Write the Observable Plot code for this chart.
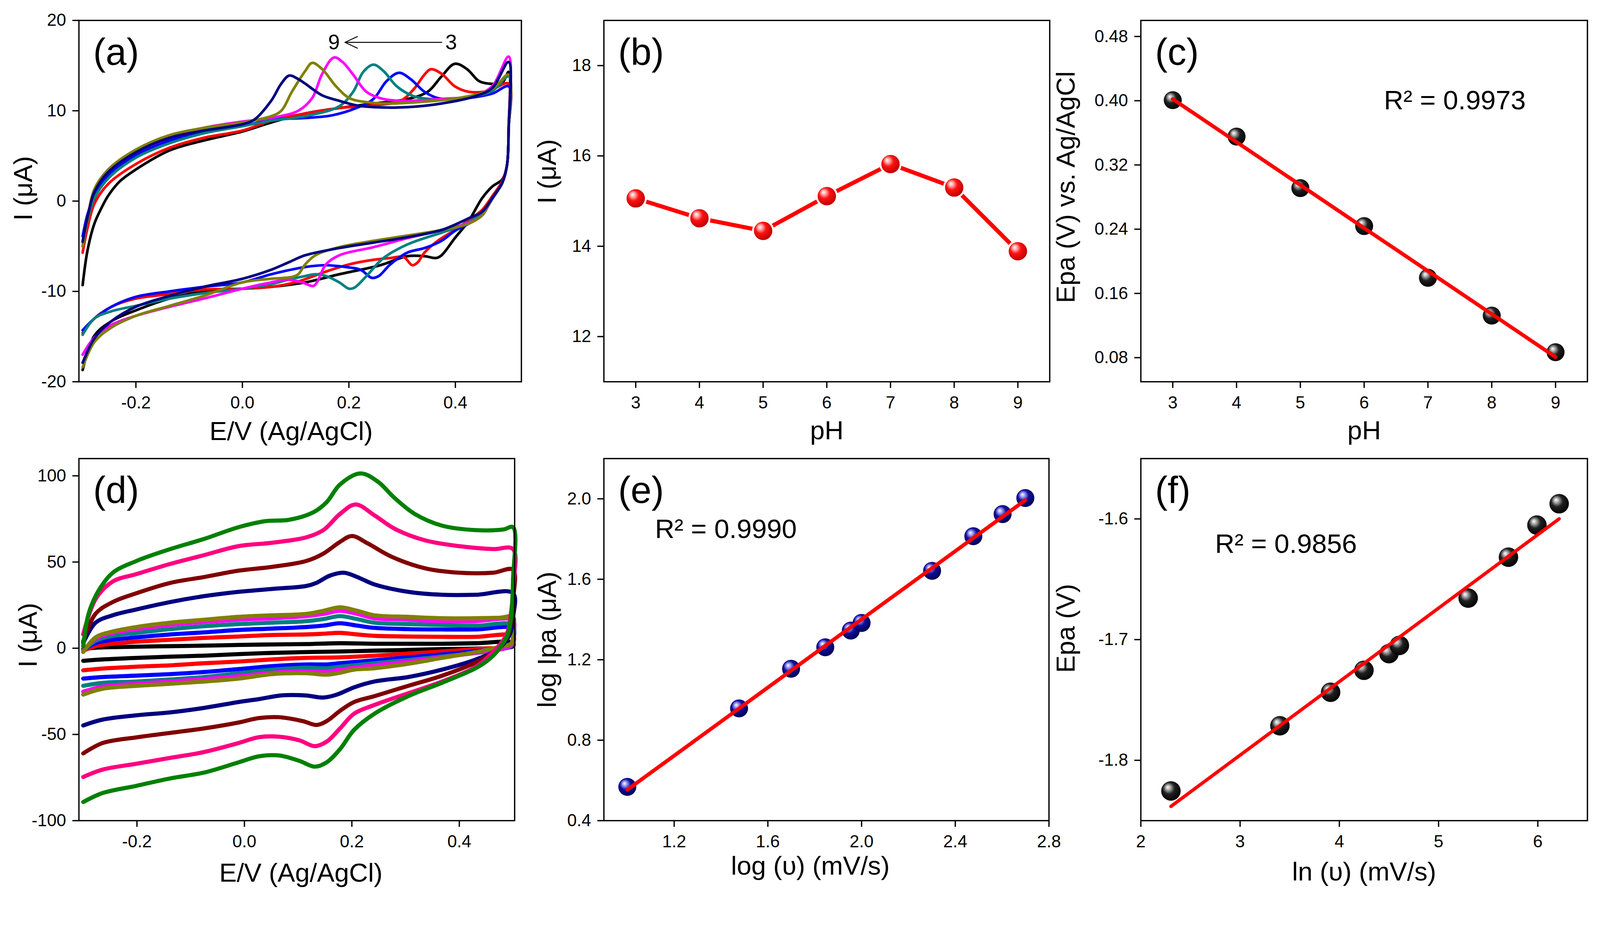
<!DOCTYPE html>
<html>
<head>
<meta charset="utf-8">
<script src="https://cdn.jsdelivr.net/npm/d3@7"></script>
<script src="https://cdn.jsdelivr.net/npm/@observablehq/plot@0.6"></script>
<style>
  html, body { margin: 0; padding: 0; background: #fff; overflow: hidden; }
  #wrap { position: absolute; left: 0; top: 0; width: 4267px; height: 2410px; background: #fff; overflow: hidden; transform-origin: 0 0; }
  #wrap svg { position: absolute; overflow: visible; max-width: none; }
</style>
</head>
<body>
<div id="wrap"></div>
<script>
// ---------------- DATA ----------------
// (a) CVs at different pH: [E (V), I (µA)] along the scan
const aLabels = ["pH 3", "pH 4", "pH 5", "pH 6", "pH 7", "pH 8", "pH 9"];
const aColors = ["#000000", "#ff0000", "#0000ff", "#008080", "#ff00ff", "#808000", "#000080"];
const cvPH3 = [[-0.300,-9.3],[-0.291,-5.5],[-0.278,-2.5],[-0.265,-0.8],[-0.252,0.6],[-0.230,2.2],[-0.200,3.5],[-0.137,5.6],[-0.073,6.7],[0.000,7.7],[0.054,8.7],[0.118,9.7],[0.182,10.3],[0.246,10.8],[0.310,11.3],[0.348,12.1],[0.374,13.8],[0.399,15.2],[0.422,14.6],[0.444,13.3],[0.463,13.0],[0.488,13.1],[0.500,14.3],[0.500,8.0],[0.497,4.0],[0.488,2.4],[0.469,1.6],[0.450,0.3],[0.425,-2.2],[0.399,-4.1],[0.374,-6.0],[0.364,-6.3],[0.342,-6.1],[0.310,-6.1],[0.259,-7.1],[0.182,-8.1],[0.118,-9.0],[0.054,-9.5],[0.000,-9.7],[-0.073,-10.0],[-0.137,-10.8],[-0.200,-12.1],[-0.246,-13.3],[-0.278,-14.9],[-0.300,-18.7]];
const cvPH4 = [[-0.300,-5.7],[-0.291,-3.0],[-0.278,-0.3],[-0.252,1.9],[-0.200,4.1],[-0.137,5.9],[-0.073,7.0],[0.000,7.8],[0.054,8.9],[0.118,9.7],[0.182,10.3],[0.246,10.6],[0.297,11.1],[0.322,12.4],[0.342,14.0],[0.354,14.6],[0.374,14.1],[0.399,12.7],[0.425,12.1],[0.463,12.2],[0.500,13.0],[0.500,8.0],[0.497,4.0],[0.488,2.2],[0.470,0.6],[0.450,-1.0],[0.425,-2.1],[0.399,-3.2],[0.367,-4.4],[0.342,-5.7],[0.329,-6.8],[0.319,-7.1],[0.303,-6.2],[0.278,-6.3],[0.246,-6.5],[0.201,-7.0],[0.157,-7.8],[0.105,-8.9],[0.054,-9.5],[0.000,-9.7],[-0.073,-9.8],[-0.137,-10.3],[-0.200,-10.8],[-0.246,-11.7],[-0.278,-13.0],[-0.300,-14.6]];
const cvPH5 = [[-0.300,-3.9],[-0.291,-1.5],[-0.278,0.6],[-0.252,2.9],[-0.200,5.1],[-0.137,6.7],[-0.073,7.6],[0.000,8.3],[0.054,9.0],[0.118,9.2],[0.169,9.5],[0.214,10.3],[0.246,11.3],[0.271,13.3],[0.294,14.2],[0.316,13.5],[0.342,12.1],[0.367,11.4],[0.405,11.3],[0.469,11.9],[0.500,12.7],[0.500,8.0],[0.497,4.0],[0.488,2.0],[0.470,0.3],[0.450,-1.5],[0.425,-2.5],[0.399,-3.3],[0.374,-4.4],[0.342,-5.2],[0.310,-5.7],[0.278,-7.0],[0.256,-8.3],[0.243,-8.5],[0.222,-7.6],[0.194,-7.3],[0.156,-7.1],[0.118,-7.3],[0.054,-8.1],[0.000,-9.0],[-0.073,-9.5],[-0.137,-10.0],[-0.200,-10.6],[-0.246,-11.7],[-0.278,-13.0],[-0.300,-14.3]];
const cvPH6 = [[-0.300,-5.0],[-0.291,-2.2],[-0.278,0.3],[-0.252,2.5],[-0.200,4.8],[-0.137,6.4],[-0.073,7.5],[0.000,8.3],[0.054,8.9],[0.118,9.4],[0.182,10.5],[0.208,12.1],[0.227,14.3],[0.246,15.1],[0.265,14.4],[0.290,12.7],[0.322,11.6],[0.354,11.3],[0.405,11.3],[0.469,12.2],[0.500,13.8],[0.500,8.0],[0.497,4.0],[0.488,2.0],[0.470,0.4],[0.450,-1.4],[0.425,-2.3],[0.399,-3.0],[0.374,-3.5],[0.310,-4.8],[0.265,-6.3],[0.233,-8.3],[0.210,-9.6],[0.200,-9.7],[0.182,-9.0],[0.157,-8.3],[0.137,-8.1],[0.118,-8.3],[0.086,-8.7],[0.054,-9.2],[0.000,-9.7],[-0.073,-10.2],[-0.137,-10.8],[-0.200,-11.6],[-0.246,-12.2],[-0.278,-13.0],[-0.300,-14.8]];
const cvPH7 = [[-0.300,-4.5],[-0.291,-1.8],[-0.278,1.0],[-0.252,3.2],[-0.200,5.4],[-0.137,7.0],[-0.073,8.1],[0.000,8.8],[0.054,9.2],[0.105,10.0],[0.131,11.4],[0.150,14.1],[0.172,15.9],[0.188,15.4],[0.208,14.0],[0.233,12.1],[0.265,11.3],[0.310,11.1],[0.374,11.3],[0.437,11.7],[0.469,12.7],[0.500,16.0],[0.500,8.0],[0.497,4.0],[0.488,2.0],[0.470,0.4],[0.450,-1.6],[0.425,-2.4],[0.374,-3.2],[0.310,-4.1],[0.246,-5.1],[0.182,-6.0],[0.157,-7.0],[0.140,-9.0],[0.133,-9.4],[0.112,-9.0],[0.086,-8.7],[0.054,-9.0],[0.000,-9.7],[-0.073,-10.8],[-0.137,-11.7],[-0.200,-12.7],[-0.246,-13.7],[-0.278,-15.1],[-0.300,-17.0]];
const cvPH8 = [[-0.300,-5.0],[-0.291,-2.0],[-0.278,1.3],[-0.252,3.5],[-0.200,5.7],[-0.137,7.3],[-0.073,8.1],[0.000,8.7],[0.054,9.4],[0.073,10.0],[0.093,12.1],[0.118,14.4],[0.131,15.3],[0.150,14.6],[0.176,12.7],[0.201,11.4],[0.233,10.95],[0.278,10.8],[0.342,11.0],[0.405,11.4],[0.469,12.4],[0.500,14.0],[0.500,8.0],[0.497,4.0],[0.488,2.0],[0.470,0.4],[0.450,-1.6],[0.425,-2.5],[0.374,-3.2],[0.246,-4.4],[0.182,-5.1],[0.137,-6.0],[0.118,-7.0],[0.105,-8.1],[0.093,-8.4],[0.054,-8.6],[0.000,-9.0],[-0.073,-10.5],[-0.137,-11.6],[-0.200,-12.7],[-0.246,-14.0],[-0.278,-15.6],[-0.300,-18.4]];
const cvPH9 = [[-0.300,-4.5],[-0.291,-1.8],[-0.278,1.0],[-0.252,3.2],[-0.200,5.4],[-0.137,7.0],[-0.073,7.8],[0.000,8.5],[0.022,9.0],[0.054,11.1],[0.073,13.0],[0.088,13.9],[0.105,13.5],[0.118,13.0],[0.150,11.7],[0.182,11.1],[0.214,10.6],[0.246,10.4],[0.310,10.4],[0.374,10.8],[0.437,11.6],[0.469,12.5],[0.500,15.4],[0.500,8.0],[0.497,4.0],[0.488,2.0],[0.470,0.4],[0.450,-1.2],[0.425,-1.9],[0.374,-3.2],[0.310,-4.0],[0.246,-4.6],[0.182,-5.2],[0.118,-6.0],[0.086,-6.8],[0.054,-7.6],[0.000,-8.6],[-0.073,-9.5],[-0.137,-10.5],[-0.200,-11.7],[-0.246,-13.3],[-0.278,-15.2],[-0.300,-17.9]];
const aXTicks = [-0.2, 0.0, 0.2, 0.4];
const aYTicks = [-20, -10, 0, 10, 20];

// (b) peak current vs pH
const phValues = [3, 4, 5, 6, 7, 8, 9];
const peakCurrent = [15.06, 14.62, 14.34, 15.11, 15.82, 15.30, 13.89];
const bYTicks = [12, 14, 16, 18];

// (c) peak potential vs pH
const peakPotential = [0.4007, 0.3554, 0.2912, 0.2439, 0.1795, 0.1324, 0.0868];
const cYTicks = [0.08, 0.16, 0.24, 0.32, 0.40, 0.48];
const cR2 = "R² = 0.9973";

// (d) CVs at different scan rates (mV/s): [E (V), I (µA)]
const dRates = [10, 30, 50, 70, 90, 100, 200, 300, 400, 500];
const dColors = ["#000000", "#ff0000", "#0000ff", "#008080", "#ff00ff", "#808000", "#000080", "#800000", "#ff0080", "#008000"];
const cvRate10 = [[-0.300,-0.5],[-0.277,0.3],[-0.201,0.9],[-0.138,1.2],[-0.075,1.5],[-0.011,1.9],[0.052,2.2],[0.115,2.4],[0.178,2.9],[0.242,2.6],[0.305,2.6],[0.368,2.6],[0.431,2.9],[0.500,3.2],[0.500,1.2],[0.431,-0.2],[0.368,-0.5],[0.305,-1.0],[0.242,-1.4],[0.178,-1.9],[0.115,-2.2],[0.052,-2.7],[-0.011,-3.4],[-0.075,-4.3],[-0.138,-4.9],[-0.201,-5.6],[-0.264,-6.5],[-0.300,-7.3]];
const cvRate30 = [[-0.300,-1.5],[-0.277,1.2],[-0.245,2.6],[-0.201,3.8],[-0.138,4.9],[-0.075,6.0],[-0.011,6.8],[0.052,7.7],[0.115,8.0],[0.147,8.4],[0.178,8.9],[0.210,8.0],[0.242,7.2],[0.305,6.8],[0.368,6.6],[0.431,6.6],[0.500,7.2],[0.500,2.9],[0.488,0.9],[0.431,-0.5],[0.368,-1.9],[0.305,-3.1],[0.242,-4.3],[0.178,-5.3],[0.115,-5.6],[0.052,-6.5],[-0.011,-7.7],[-0.075,-8.7],[-0.138,-9.9],[-0.201,-10.7],[-0.264,-11.8],[-0.300,-12.8]];
const cvRate50 = [[-0.300,-1.0],[-0.277,2.9],[-0.245,4.9],[-0.201,6.3],[-0.138,8.0],[-0.075,9.2],[-0.011,10.6],[0.052,11.4],[0.115,12.3],[0.147,13.1],[0.178,14.5],[0.210,13.1],[0.242,11.8],[0.305,11.1],[0.368,10.9],[0.431,10.9],[0.500,11.4],[0.500,4.6],[0.497,1.2],[0.463,-0.5],[0.368,-3.6],[0.305,-5.3],[0.242,-7.0],[0.178,-8.7],[0.153,-9.4],[0.115,-9.4],[0.052,-10.4],[-0.011,-12.1],[-0.075,-13.8],[-0.138,-15.0],[-0.201,-15.9],[-0.264,-16.7],[-0.300,-17.6]];
const cvRate70 = [[-0.300,-1.4],[-0.277,4.3],[-0.245,7.2],[-0.201,8.9],[-0.138,11.1],[-0.075,12.8],[-0.011,14.0],[0.052,14.8],[0.115,15.7],[0.147,16.9],[0.178,18.6],[0.210,16.9],[0.242,14.8],[0.305,14.0],[0.368,13.5],[0.431,13.1],[0.500,13.5],[0.500,6.3],[0.497,1.5],[0.463,-1.4],[0.368,-4.8],[0.305,-6.8],[0.242,-8.7],[0.178,-10.7],[0.153,-11.6],[0.115,-11.3],[0.052,-12.4],[-0.011,-14.5],[-0.075,-16.7],[-0.138,-18.1],[-0.201,-19.3],[-0.264,-20.1],[-0.300,-21.8]];
const cvRate90 = [[-0.300,-1.4],[-0.277,5.5],[-0.245,8.9],[-0.201,11.1],[-0.138,13.5],[-0.075,15.2],[-0.011,16.5],[0.052,17.4],[0.115,18.6],[0.147,19.9],[0.178,21.7],[0.210,19.9],[0.242,17.4],[0.305,16.5],[0.368,15.7],[0.431,15.7],[0.500,16.2],[0.500,8.0],[0.497,2.0],[0.463,-1.4],[0.431,-2.6],[0.368,-5.3],[0.305,-7.7],[0.242,-9.9],[0.178,-12.4],[0.153,-13.6],[0.115,-13.3],[0.052,-14.2],[-0.011,-16.2],[-0.075,-17.9],[-0.138,-19.3],[-0.201,-20.6],[-0.264,-22.3],[-0.300,-25.2]];
const cvRate100 = [[-0.300,-2.2],[-0.277,6.3],[-0.245,9.7],[-0.201,12.3],[-0.138,14.8],[-0.075,16.5],[-0.011,18.2],[0.052,19.1],[0.115,19.9],[0.147,21.7],[0.178,23.7],[0.210,21.7],[0.242,19.1],[0.305,18.2],[0.368,17.4],[0.431,17.4],[0.476,17.7],[0.500,18.2],[0.500,9.7],[0.497,2.9],[0.482,1.2],[0.457,-0.5],[0.431,-2.2],[0.368,-5.6],[0.305,-9.0],[0.242,-11.6],[0.204,-12.4],[0.178,-14.2],[0.153,-15.3],[0.115,-14.5],[0.052,-15.0],[-0.011,-17.6],[-0.075,-19.3],[-0.138,-20.6],[-0.201,-21.8],[-0.264,-23.5],[-0.300,-26.9]];
const cvRate200 = [[-0.300,3.0],[-0.277,14.8],[-0.245,19.1],[-0.201,22.5],[-0.138,26.8],[-0.075,30.2],[-0.011,32.7],[0.052,34.4],[0.115,36.1],[0.134,37.9],[0.159,42.1],[0.185,43.8],[0.210,41.3],[0.242,37.0],[0.305,32.7],[0.368,31.0],[0.431,31.0],[0.500,31.9],[0.500,18.0],[0.494,8.0],[0.472,-0.5],[0.431,-6.5],[0.368,-12.4],[0.305,-16.7],[0.242,-19.3],[0.204,-22.7],[0.172,-26.9],[0.147,-28.6],[0.115,-27.4],[0.071,-27.3],[0.027,-29.5],[-0.011,-31.2],[-0.075,-34.6],[-0.138,-37.2],[-0.201,-38.9],[-0.264,-41.4],[-0.300,-44.8]];
const cvRate300 = [[-0.300,4.0],[-0.277,20.0],[-0.245,26.8],[-0.201,31.9],[-0.138,37.9],[-0.075,41.3],[-0.011,45.0],[0.052,47.2],[0.115,50.6],[0.147,54.9],[0.178,61.7],[0.200,65.1],[0.229,60.9],[0.273,53.2],[0.336,46.4],[0.400,43.8],[0.463,43.8],[0.500,45.5],[0.500,28.0],[0.496,15.0],[0.488,6.0],[0.463,-2.2],[0.431,-8.2],[0.368,-15.9],[0.305,-21.8],[0.242,-27.8],[0.204,-31.2],[0.178,-36.3],[0.153,-42.3],[0.134,-44.5],[0.109,-42.3],[0.064,-40.0],[0.027,-40.5],[-0.011,-43.1],[-0.075,-46.5],[-0.138,-49.1],[-0.201,-51.7],[-0.264,-55.0],[-0.300,-61.0]];
const cvRate400 = [[-0.300,8.0],[-0.277,28.5],[-0.245,38.7],[-0.201,43.0],[-0.138,48.9],[-0.075,54.0],[-0.011,59.2],[0.052,61.2],[0.115,64.3],[0.147,68.5],[0.178,77.9],[0.207,83.4],[0.242,77.1],[0.279,69.4],[0.336,62.6],[0.400,59.2],[0.463,57.5],[0.500,57.5],[0.500,35.0],[0.496,20.0],[0.488,8.0],[0.463,-2.2],[0.431,-10.7],[0.368,-19.3],[0.305,-26.1],[0.242,-32.9],[0.204,-38.0],[0.178,-46.5],[0.153,-54.2],[0.131,-56.8],[0.102,-53.4],[0.064,-51.3],[0.027,-51.6],[-0.011,-55.0],[-0.075,-60.2],[-0.138,-63.6],[-0.201,-67.0],[-0.264,-70.4],[-0.300,-74.7]];
const cvRate500 = [[-0.300,1.0],[-0.290,20.0],[-0.271,33.6],[-0.245,43.8],[-0.201,50.6],[-0.138,57.5],[-0.075,63.4],[-0.011,70.2],[0.039,73.7],[0.083,74.5],[0.128,78.8],[0.153,84.7],[0.178,95.0],[0.216,101.4],[0.248,96.7],[0.279,87.3],[0.317,77.9],[0.368,71.1],[0.431,68.5],[0.482,68.9],[0.500,70.2],[0.500,40.0],[0.497,20.0],[0.490,8.0],[0.475,0.0],[0.457,-6.0],[0.431,-11.5],[0.368,-20.0],[0.305,-27.8],[0.242,-38.0],[0.204,-47.4],[0.178,-58.5],[0.153,-66.2],[0.131,-68.7],[0.102,-65.3],[0.064,-62.2],[0.027,-62.7],[-0.011,-66.2],[-0.075,-72.1],[-0.138,-75.5],[-0.201,-79.8],[-0.264,-84.0],[-0.300,-89.2]];
const dYTicks = [-100, -50, 0, 50, 100];

// (e) log Ipa vs log(scan rate)
const logRate = [1.000, 1.477, 1.699, 1.845, 1.954, 2.000, 2.301, 2.477, 2.602, 2.699];
const logIpa = [0.568, 0.958, 1.155, 1.262, 1.345, 1.383, 1.642, 1.814, 1.924, 2.004];
const eXTicks = [1.2, 1.6, 2.0, 2.4, 2.8];
const eYTicks = [0.4, 0.8, 1.2, 1.6, 2.0];
const eR2 = "R² = 0.9990";

// (f) Epa vs ln(scan rate)
const lnRate = [2.303, 3.401, 3.912, 4.248, 4.500, 4.605, 5.298, 5.704, 5.991, 6.215];
const epaF = [-1.8254, -1.7714, -1.7436, -1.7254, -1.7116, -1.7048, -1.6656, -1.6317, -1.6051, -1.5874];
const fXTicks = [2, 3, 4, 5, 6];
const fYTicks = [-1.8, -1.7, -1.6];
const fR2 = "R² = 0.9856";

// ---------------- RENDER ----------------
const FONT = "'Liberation Sans', Arial, Helvetica, sans-serif";
const wrap = document.getElementById("wrap");
const NS = "http://www.w3.org/2000/svg";

// fit the 4267x2410 canvas into whatever CSS viewport the browser reports
function fit() {
  const w = window.innerWidth || document.documentElement.clientWidth || 4267;
  const h = window.innerHeight || document.documentElement.clientHeight || 2410;
  const s = Math.min(w / 4267, h / 2410);
  wrap.style.transform = s < 0.999 ? `scale(${s})` : "none";
}
fit();
window.addEventListener("resize", fit);

function addGradient(svg, id, stops) {
  const defs = document.createElementNS(NS, "defs");
  const g = document.createElementNS(NS, "radialGradient");
  g.setAttribute("id", id);
  g.setAttribute("cx", "0.45"); g.setAttribute("cy", "0.42");
  g.setAttribute("r", "0.6");
  g.setAttribute("fx", "0.33"); g.setAttribute("fy", "0.3");
  for (const [o, c] of stops) {
    const s = document.createElementNS(NS, "stop");
    s.setAttribute("offset", o); s.setAttribute("stop-color", c);
    g.appendChild(s);
  }
  defs.appendChild(g);
  svg.insertBefore(defs, svg.firstChild);
}
const redStops = [[0, "#ffffff"], [0.18, "#ffb0b0"], [0.45, "#ff1010"], [1, "#b00000"]];
const blackStops = [[0, "#ffffff"], [0.18, "#b8b8b8"], [0.5, "#202020"], [1, "#000000"]];
const navyStops = [[0, "#ffffff"], [0.18, "#a8a8ff"], [0.5, "#10109a"], [1, "#000050"]];

function panel(cfg) {
  const width = cfg.ml + cfg.fw + cfg.mr;
  const height = cfg.mt + cfg.fh + cfg.mb;
  const svg = Plot.plot({
    width, height,
    marginLeft: cfg.ml, marginRight: cfg.mr, marginTop: cfg.mt, marginBottom: cfg.mb,
    style: {fontFamily: FONT, fontSize: "46px", color: "#000", background: "transparent", overflow: "visible"},
    x: {domain: cfg.xDomain},
    y: {domain: cfg.yDomain},
    marks: [
      ...cfg.marks,
      Plot.frame({stroke: "#000", strokeWidth: 3.5}),
      Plot.axisX({ticks: cfg.xTicks, tickFormat: cfg.xFmt, tickSize: 17, tickPadding: 21, strokeWidth: 3.5, fontSize: 46, label: null}),
      Plot.axisY({ticks: cfg.yTicks, tickFormat: cfg.yFmt, tickSize: 17, tickPadding: 17, strokeWidth: 3.5, fontSize: 46, label: null}),
      Plot.text([cfg.xLabel], {text: d => d, frameAnchor: "bottom", dx: cfg.xLabelDx, dy: cfg.xLabelDy, lineAnchor: "bottom", textAnchor: "middle", fontSize: 70}),
      Plot.text([cfg.yLabel], {text: d => d, frameAnchor: "left", dx: -cfg.yLabelDx, dy: cfg.yLabelDy, rotate: -90, lineAnchor: "middle", textAnchor: "middle", fontSize: 70}),
      Plot.text([cfg.tag], {text: d => d, frameAnchor: "top-left", dx: 38, dy: 118, lineAnchor: "bottom", textAnchor: "start", fontSize: 100})
    ]
  });
  svg.style.left = cfg.left + "px";
  svg.style.top = cfg.top + "px";
  if (cfg.gradient) addGradient(svg, cfg.gradient[0], cfg.gradient[1]);
  wrap.appendChild(svg);
}

const f1 = d => d.toFixed(1), f2 = d => d.toFixed(2), f0 = d => String(d);
const ROW1 = {top: 0, mt: 54, fh: 964, mb: 190};
const ROW2 = {top: 1213, mt: 10, fh: 966, mb: 200};

// (a)
const aSeries = [cvPH3, cvPH4, cvPH5, cvPH6, cvPH7, cvPH8, cvPH9];
panel({
  ...ROW1, left: 0, ml: 210, fw: 1180, mr: 20,
  xDomain: [-0.307, 0.524], yDomain: [-20, 20],
  xTicks: aXTicks, xFmt: f1, yTicks: aYTicks, yFmt: f0,
  xLabel: "E/V (Ag/AgCl)", xLabelDx: -24, xLabelDy: 156,
  yLabel: "I (μA)", yLabelDx: 148, yLabelDy: -34, tag: "(a)",
  marks: [
    ...aSeries.map((pts, i) => Plot.line(pts, {x: d => d[0], y: d => d[1], stroke: aColors[i], strokeWidth: 7, curve: "catmull-rom", title: () => aLabels[i]})),
    Plot.arrow([{x1: 0.3745, y1: 17.57, x2: 0.1926, y2: 17.57}], {x1: "x1", y1: "y1", x2: "x2", y2: "y2", stroke: "#000", strokeWidth: 2.5, headLength: 22, headAngle: 50}),
    Plot.text([{x: 0.172, y: 17.55, t: "9"}, {x: 0.392, y: 17.55, t: "3"}], {x: "x", y: "y", text: "t", fontSize: 56, lineAnchor: "middle", textAnchor: "middle"})
  ]
});

// (b)
const bData = phValues.map((p, i) => ({pH: p, I: peakCurrent[i]}));
panel({
  ...ROW1, left: 1400, ml: 210, fw: 1189, mr: 20,
  xDomain: [2.5, 9.5], yDomain: [11, 19],
  xTicks: phValues, xFmt: f0, yTicks: bYTicks, yFmt: f0,
  xLabel: "pH", xLabelDx: 0, xLabelDy: 153,
  yLabel: "I (μA)", yLabelDx: 151, yLabelDy: -79, tag: "(b)",
  gradient: ["ballRed", redStops],
  marks: [
    Plot.line(bData, {x: "pH", y: "I", stroke: "#ff0000", strokeWidth: 11}),
    Plot.dot(bData, {x: "pH", y: "I", r: 27, fill: "url(#ballRed)", stroke: "#fff", strokeWidth: 5})
  ]
});

// (c)
const cData = phValues.map((p, i) => ({pH: p, E: peakPotential[i]}));
panel({
  ...ROW1, left: 2832, ml: 210, fw: 1191, mr: 20,
  xDomain: [2.5, 9.5], yDomain: [0.05, 0.50],
  xTicks: phValues, xFmt: f0, yTicks: cYTicks, yFmt: f2,
  xLabel: "pH", xLabelDx: 0, xLabelDy: 153,
  yLabel: "Epa (V) vs. Ag/AgCl", yLabelDx: 199, yLabelDy: -37, tag: "(c)",
  gradient: ["ballBlackC", blackStops],
  marks: [
    Plot.dot(cData, {x: "pH", y: "E", r: 24, fill: "url(#ballBlackC)"}),
    Plot.linearRegressionY(cData, {x: "pH", y: "E", stroke: "#ff0000", strokeWidth: 10, ci: 0}),
    Plot.text([cR2], {x: 6.31, y: 0.3895, text: d => d, fontSize: 72, textAnchor: "start", lineAnchor: "bottom"})
  ]
});

// (d)
const dSeries = [cvRate10, cvRate30, cvRate50, cvRate70, cvRate90, cvRate100, cvRate200, cvRate300, cvRate400, cvRate500];
panel({
  ...ROW2, left: 0, ml: 210, fw: 1162, mr: 20,
  xDomain: [-0.308, 0.503], yDomain: [-100, 110],
  xTicks: aXTicks, xFmt: f1, yTicks: dYTicks, yFmt: f0,
  xLabel: "E/V (Ag/AgCl)", xLabelDx: 11, xLabelDy: 163,
  yLabel: "I (μA)", yLabelDx: 135, yLabelDy: -12, tag: "(d)",
  marks: dSeries.map((pts, i) => Plot.line(pts, {x: d => d[0], y: d => d[1], stroke: dColors[i], strokeWidth: 11, curve: "catmull-rom", title: () => dRates[i] + " mV/s"}))
});

// (e)
const eData = logRate.map((v, i) => ({x: v, y: logIpa[i]}));
panel({
  ...ROW2, left: 1400, ml: 210, fw: 1187, mr: 20,
  xDomain: [0.9, 2.8], yDomain: [0.4, 2.2],
  xTicks: eXTicks, xFmt: f1, yTicks: eYTicks, yFmt: f1,
  xLabel: "log (υ) (mV/s)", xLabelDx: -43, xLabelDy: 144,
  yLabel: "log Ipa (μA)", yLabelDx: 150, yLabelDy: 0, tag: "(e)",
  gradient: ["ballNavy", navyStops],
  marks: [
    Plot.dot(eData, {x: "x", y: "y", r: 24, fill: "url(#ballNavy)"}),
    Plot.linearRegressionY(eData, {x: "x", y: "y", stroke: "#ff0000", strokeWidth: 10, ci: 0}),
    Plot.text([eR2], {x: 1.118, y: 1.805, text: d => d, fontSize: 72, textAnchor: "start", lineAnchor: "bottom"})
  ]
});

// (f)
const fData = lnRate.map((v, i) => ({x: v, y: epaF[i]}));
panel({
  ...ROW2, left: 2832, ml: 210, fw: 1191, mr: 20,
  xDomain: [2, 6.5], yDomain: [-1.85, -1.55],
  xTicks: fXTicks, xFmt: f0, yTicks: fYTicks, yFmt: f1,
  xLabel: "ln (υ) (mV/s)", xLabelDx: 0, xLabelDy: 160,
  yLabel: "Epa (V)", yLabelDx: 199, yLabelDy: -30, tag: "(f)",
  gradient: ["ballBlackF", blackStops],
  marks: [
    Plot.dot(fData, {x: "x", y: "y", r: 26, fill: "url(#ballBlackF)"}),
    Plot.linearRegressionY(fData, {x: "x", y: "y", stroke: "#ff0000", strokeWidth: 9, ci: 0}),
    Plot.text([fR2], {x: 2.748, y: -1.628, text: d => d, fontSize: 72, textAnchor: "start", lineAnchor: "bottom"})
  ]
});
</script>
</body>
</html>
